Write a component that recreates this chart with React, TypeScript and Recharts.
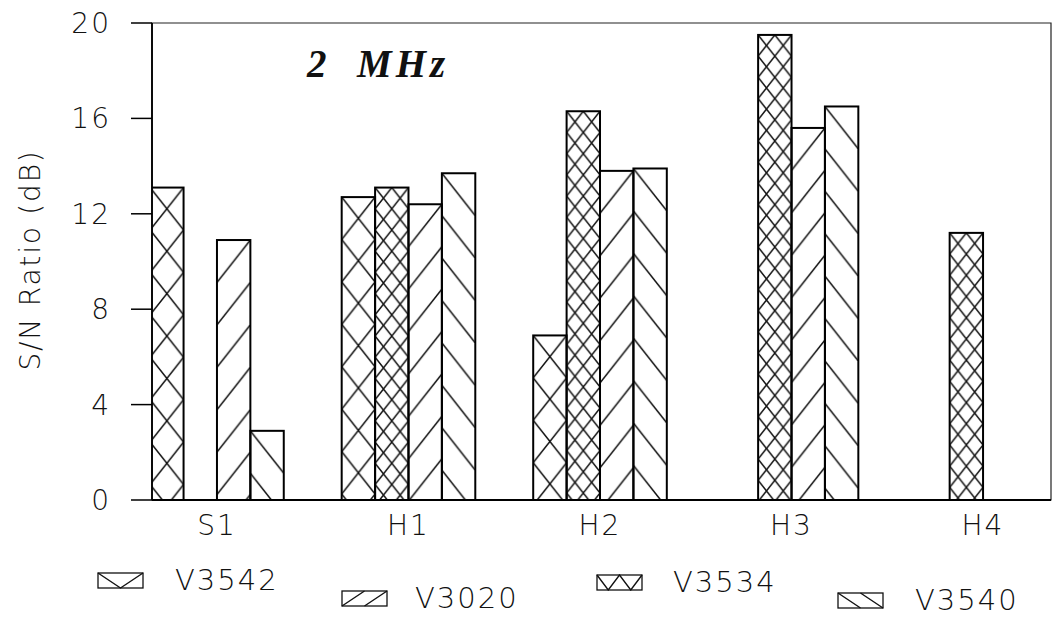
import React from 'react';
import { BarChart, Bar, XAxis, YAxis, ReferenceArea } from 'recharts';

const categories = ['S1', 'H1', 'H2', 'H3', 'H4'];
const v3542 = [13.1, 12.7, 6.9, null, null];
const v3534 = [null, 13.1, 16.3, 19.5, 11.2];
const v3020 = [10.9, 12.4, 13.8, 15.6, null];
const v3540 = [2.9, 13.7, 13.9, 16.5, null];
const yTicks = [0, 4, 8, 12, 16, 20];
const xTicks = [0, 1, 2, 3, 4];

// order of the bars inside each group
const barSeries = [
  { key: 'V3542', hatch: 'x' },
  { key: 'V3534', hatch: 'xx' },
  { key: 'V3020', hatch: 'fwd' },
  { key: 'V3540', hatch: 'back' },
];

// legend is staggered in two rows
const legendItems = [
  { key: 'V3542', hatch: 'x', swatchX: 97, swatchY: 572, textX: 175, textY: 566 },
  { key: 'V3020', hatch: 'fwd', swatchX: 341, swatchY: 590, textX: 415, textY: 584 },
  { key: 'V3534', hatch: 'xx', swatchX: 596, swatchY: 574, textX: 673, textY: 568 },
  { key: 'V3540', hatch: 'back', swatchX: 837, swatchY: 592, textX: 915, textY: 586 },
];

const data = categories.map((name, i) => ({
  x: i,
  name,
  V3542: v3542[i],
  V3534: v3534[i],
  V3020: v3020[i],
  V3540: v3540[i],
}));

const FONT = '"DejaVu Sans", "Liberation Sans", sans-serif';
const SLOPE = 1.27;

function tileFor(kind: string, w: number) {
  if (kind === 'x') {
    const h = w * SLOPE;
    return { tw: w, th: h, d: `M0,0L${w},${h}M${w},0L0,${h}` };
  }
  if (kind === 'xx') {
    const tw = w / 2;
    const h = tw * SLOPE;
    return { tw, th: h, d: `M0,0L${tw},${h}M${tw},0L0,${h}` };
  }
  const h = w * SLOPE;
  if (kind === 'fwd') return { tw: w, th: h, d: `M0,${h}L${w},0` };
  return { tw: w, th: h, d: `M0,0L${w},${h}` };
}

const hatchShape = (kind: string) => (props: any) => {
  const { x, y, width, height, index } = props;
  if (!height || height <= 0 || !width) return null;
  const id = `hatch-${kind}-${index}`;
  const t = tileFor(kind, width);
  return (
    <g>
      <defs>
        <pattern id={id} patternUnits="userSpaceOnUse" x={x} y={y} width={t.tw} height={t.th}>
          <path d={t.d} stroke="#111" strokeWidth={1.5} fill="none" />
        </pattern>
      </defs>
      <rect x={x} y={y} width={width} height={height} fill={`url(#${id})`} stroke="#000" strokeWidth={2} />
    </g>
  );
};

function Swatch({ kind }: { kind: string }) {
  const W = 45;
  const H = 15;
  let d = '';
  if (kind === 'x') d = `M0,0L${W / 2},${H}L${W},0`;
  if (kind === 'xx') d = `M0,0L${W / 4},${H}L${W / 2},0L${(3 * W) / 4},${H}L${W},0`;
  if (kind === 'fwd') d = `M0,${H}L${W / 2},0M${W / 2},${H}L${W},0`;
  if (kind === 'back') d = `M0,0L${W / 2},${H}M${W / 2},0L${W},${H}`;
  return (
    <svg width={W + 2} height={H + 2} style={{ display: 'block' }}>
      <g transform="translate(1,1)">
        <rect x={0} y={0} width={W} height={H} fill="#fff" stroke="#111" strokeWidth={1.3} />
        <path d={d} stroke="#111" strokeWidth={1.4} fill="none" />
      </g>
    </svg>
  );
}

export default function App() {
  const tickStyle = { fontFamily: FONT, fontSize: 28, fill: '#111', fontWeight: 300 };
  return (
    <div style={{ position: 'absolute', left: 0, top: 0, width: 1053, height: 618, background: '#fff', overflow: 'hidden' }}>
      <BarChart
        width={1053}
        height={618}
        data={data}
        margin={{ top: 23, right: 2, bottom: 78, left: 0 }}
        barGap={0}
        barSize={33.4}
      >
        <XAxis
          type="number"
          dataKey="x"
          domain={[-0.339, 4.355]}
          ticks={xTicks}
          allowDataOverflow
          tickFormatter={(v: number) => categories[v] ?? ''}
          tickLine={false}
          tickSize={0}
          tickMargin={15}
          height={40}
          axisLine={{ stroke: '#000', strokeWidth: 1.8 }}
          tick={{ ...tickStyle, letterSpacing: 2 }}
        />
        <YAxis
          type="number"
          domain={[0, 20]}
          ticks={yTicks}
          width={152}
          tickSize={21}
          tickMargin={20}
          tickLine={{ stroke: '#000', strokeWidth: 1.5 }}
          axisLine={{ stroke: '#000', strokeWidth: 1.8 }}
          tick={{ ...tickStyle, letterSpacing: 2 }}
        />
        <ReferenceArea
          x1={-0.339}
          x2={4.355}
          y1={0}
          y2={20}
          fill="none"
          stroke="#222"
          strokeWidth={1.2}
          ifOverflow="visible"
        />
        {barSeries.map((s) => (
          <Bar
            key={s.key}
            dataKey={s.key}
            barSize={33.4}
            isAnimationActive={false}
            shape={hatchShape(s.hatch)}
          />
        ))}
        <text
          x={30}
          y={260}
          transform="rotate(-90 30 260)"
          textAnchor="middle"
          dominantBaseline="central"
          fontFamily={FONT}
          fontSize={28}
          fontWeight={300}
          letterSpacing={1.8}
          fill="#111"
        >
          S/N Ratio (dB)
        </text>
        <text
          y={77}
          fontFamily='"Liberation Serif", "DejaVu Serif", serif'
          fontStyle="italic"
          fontWeight="bold"
          fontSize={39}
          fill="#111"
        >
          <tspan x={307}>2</tspan>
          <tspan x={357} letterSpacing={4}>MHz</tspan>
        </text>
      </BarChart>
      {legendItems.map((item) => (
        <React.Fragment key={item.key}>
          <div style={{ position: 'absolute', left: item.swatchX, top: item.swatchY }}>
            <Swatch kind={item.hatch} />
          </div>
          <div
            style={{
              position: 'absolute',
              left: item.textX,
              top: item.textY,
              fontFamily: FONT,
              fontWeight: 300,
              fontSize: 29,
              letterSpacing: 2,
              color: '#111',
              lineHeight: 1,
              whiteSpace: 'nowrap',
            }}
          >
            {item.key}
          </div>
        </React.Fragment>
      ))}
    </div>
  );
}
